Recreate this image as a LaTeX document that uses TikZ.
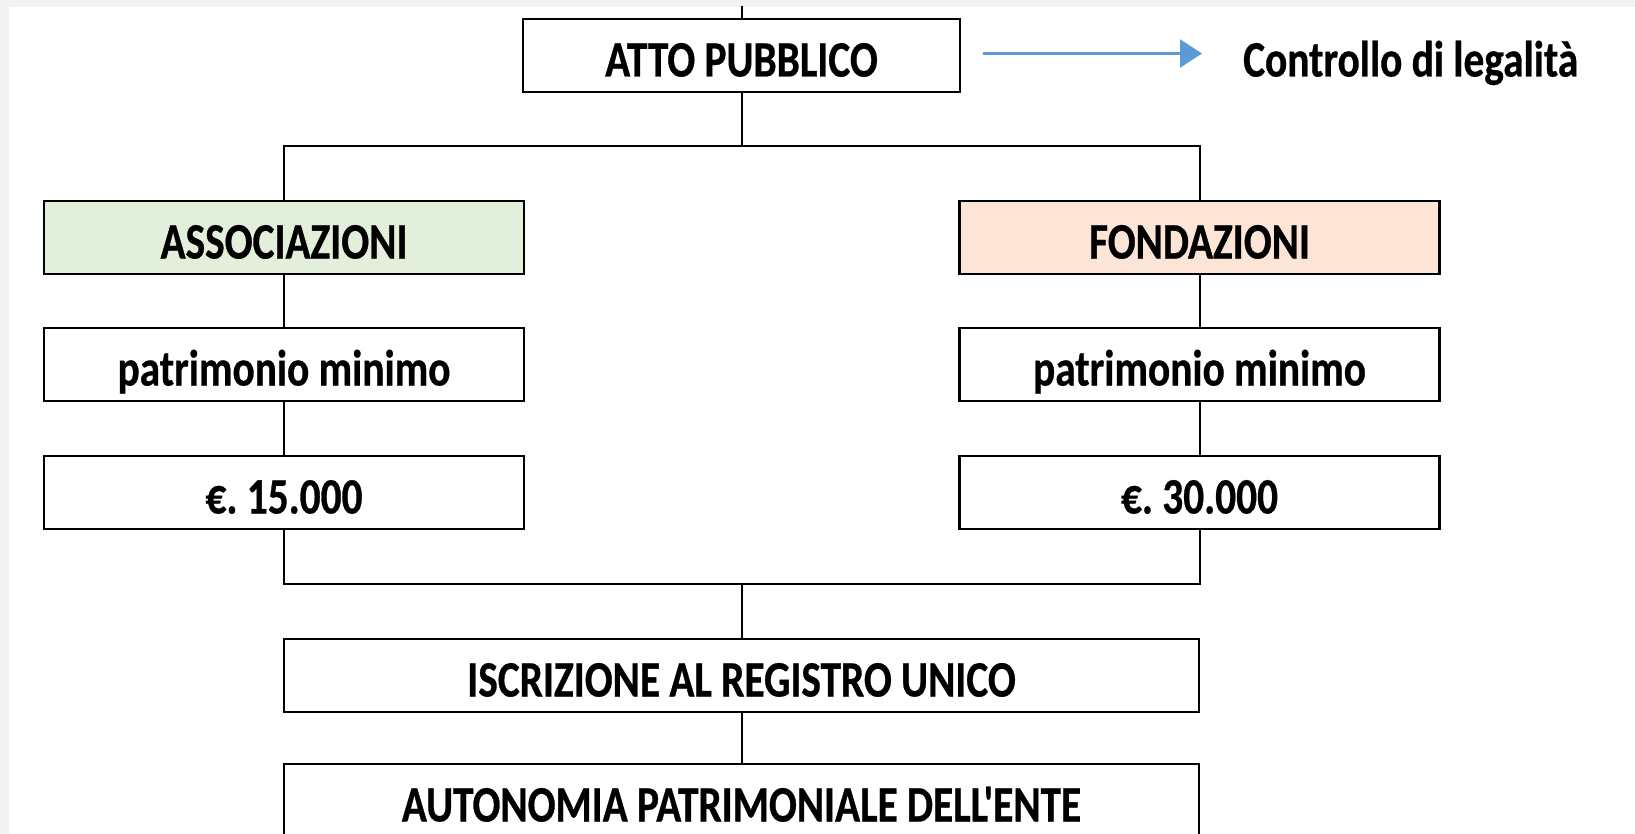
\documentclass[tikz,border=0pt]{standalone}
\usepackage{fontspec}
\newfontfamily\boxfont{Carlito}[FakeStretch=0.81, FakeBold=0.6]
\usetikzlibrary{arrows.meta}
\definecolor{assocgreen}{HTML}{E2EFDA}
\definecolor{fondpeach}{HTML}{FCE4D6}
\definecolor{arrowblue}{HTML}{5B9BD5}
\definecolor{bggray}{HTML}{F2F2F2}
\frenchspacing
\begin{document}
\begin{tikzpicture}[x=1pt,y=-1pt,
  box/.style={draw=black, line width=2.7pt, minimum height=73pt, inner sep=0pt,
    font=\fontsize{51}{60}\boxfont\bfseries\frenchspacing, text height=42pt, text depth=0pt},
  sidebox/.style={box, minimum width=480pt},
  widebox/.style={box, minimum width=915pt},
  conn/.style={line width=2pt, line cap=rect},
  bluearrow/.style={draw=arrowblue, line width=2.5pt, -{Triangle[length=22pt,width=28pt]}},
  plain/.style={inner sep=0pt, font=\fontsize{51}{60}\boxfont\bfseries, text height=42pt, text depth=0pt}]
\useasboundingbox (0,0) rectangle (1635,834);
\clip (0,0) rectangle (1635,834);
\fill[bggray] (0,0) rectangle (1635,834);
\fill[white] (9,7) rectangle (1635,834);

\node[box, minimum width=437pt] (atto) at (741.5,55.5) {ATTO PUBBLICO};
\node[plain, anchor=west] (ctrl) at (1243,55.5) {Controllo di legalità};

\node[sidebox, fill=assocgreen] (assoc) at (284,237.5) {ASSOCIAZIONI};
\node[sidebox, fill=fondpeach] (fond) at (1199.5,237.5) {FONDAZIONI};
\node[sidebox] (assocpm) at (284,364.5) {patrimonio minimo};
\node[sidebox] (fondpm) at (1199.5,364.5) {patrimonio minimo};
\node[sidebox] (assocval) at (284,492.5) {€. 15.000};
\node[sidebox] (fondval) at (1199.5,492.5) {€. 30.000};

\node[widebox] (iscr) at (741.5,675.5) {ISCRIZIONE AL REGISTRO UNICO};
\node[widebox] (auto) at (741.5,800.5) {AUTONOMIA PATRIMONIALE DELL'ENTE};

\coordinate (topend) at (741.5,7);
\coordinate (bus1) at (741.5,146);
\coordinate (bus2) at (741.5,584);
\coordinate (arrstart) at (983,53.5);
\coordinate (arrend) at (1202,53.5);

\draw[conn] (topend) -- (atto.north);
\draw[conn] (atto.south) -- (bus1);
\draw[conn] (assoc.north) -- (assoc.north |- bus1) -- (fond.north |- bus1) -- (fond.north);
\draw[conn] (assoc.south) -- (assocpm.north);
\draw[conn] (assocpm.south) -- (assocval.north);
\draw[conn] (fond.south) -- (fondpm.north);
\draw[conn] (fondpm.south) -- (fondval.north);
\draw[conn] (assocval.south) -- (assocval.south |- bus2) -- (fondval.south |- bus2) -- (fondval.south);
\draw[conn] (bus2) -- (iscr.north);
\draw[conn] (iscr.south) -- (auto.north);

\draw[bluearrow] (arrstart) -- (arrend);
\end{tikzpicture}
\end{document}
